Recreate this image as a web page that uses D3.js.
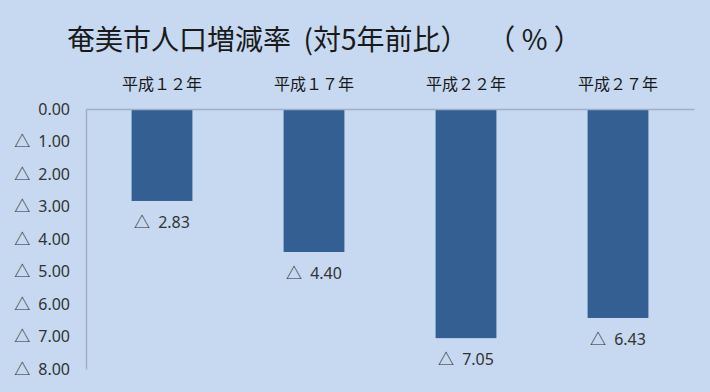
<!DOCTYPE html>
<html>
<head>
<meta charset="utf-8">
<script src="https://cdn.jsdelivr.net/npm/d3@7"></script>
<style>
  body { margin: 0; background: #c6d9f1; }
  svg { display: block; font-family: "Noto Sans CJK JP", "Noto Sans", sans-serif; }
  .title { text-spacing-trim: space-all; font-feature-settings: "chws" 0, "halt" 0; }
</style>
</head>
<body>
<div id="chart"></div>
<script>
var categories = ["平成１２年", "平成１７年", "平成２２年", "平成２７年"]
var rates = [-2.83, -4.40, -7.05, -6.43]
var tickValues = [0, -1, -2, -3, -4, -5, -6, -7, -8]
var title = "奄美市人口増減率\u00a0\u00a0(対5年前比）\u00a0\u00a0\u00a0（\u00a0%\u00a0）"

var width = 710, height = 392
var margin = { top: 109, right: 16, bottom: 22, left: 86 }

var svg = d3.select("#chart").append("svg")
    .attr("width", width)
    .attr("height", height)

svg.append("rect")
    .attr("width", width).attr("height", height)
    .attr("fill", "#c6d9f1")

svg.append("text")
    .attr("class", "title")
    .attr("x", 67)
    .attr("y", 50)
    .attr("font-size", 28)
    .attr("fill", "#1a1a1a")
    .text(title)

var x = d3.scaleBand()
    .domain(categories)
    .range([margin.left, width - margin.right])
    .paddingInner(0.6)
    .paddingOuter(0.3)

var y = d3.scaleLinear()
    .domain([0, -8])
    .range([margin.top, height - margin.bottom - 1])

var num = d3.format(".2f")

// negative values are written with a triangle, Japanese style
function label(sel) {
    sel.each(function(v) {
        var t = d3.select(this).text(null)
        if (v < 0) {
            t.append("tspan").attr("font-family", "'Noto Sans CJK JP', sans-serif").text("△")
            t.append("tspan").attr("dx", 8).text(num(-v))
        } else {
            t.append("tspan").text(num(v))
        }
    })
}

// y axis
var yAxis = d3.axisLeft(y).tickValues(tickValues).tickSize(0).tickPadding(16)
var gy = svg.append("g")
    .attr("transform", "translate(" + margin.left + ",0)")
    .call(yAxis)
gy.select(".domain").attr("stroke", "#9fb0c6").attr("stroke-width", 1.5)
gy.selectAll("text").attr("font-size", 16).attr("fill", "#333")
    .attr("font-family", "'Noto Sans', sans-serif")
    .call(label)

// bars
svg.selectAll("rect.bar")
    .data(rates)
    .enter().append("rect")
    .attr("class", "bar")
    .attr("x", function(d, i) { return x(categories[i]) })
    .attr("y", y(0))
    .attr("width", x.bandwidth())
    .attr("height", function(d) { return y(d) - y(0) })
    .attr("fill", "#335f93")

// top axis line and category labels
var xAxis = d3.axisTop(x).tickSize(0).tickPadding(19)
var gx = svg.append("g")
    .attr("transform", "translate(0," + y(0) + ")")
    .call(xAxis)
gx.select(".domain").attr("stroke", "#9fb0c6").attr("stroke-width", 1.5)
gx.selectAll("text").attr("font-size", 16).attr("fill", "#1a1a1a")
    .attr("font-family", "'Noto Sans CJK JP', sans-serif")

// value labels
svg.selectAll("text.val")
    .data(rates)
    .enter().append("text")
    .attr("class", "val")
    .attr("x", function(d, i) { return x(categories[i]) + x.bandwidth() / 2 })
    .attr("y", function(d) { return y(d) + 27 })
    .attr("text-anchor", "middle")
    .attr("font-size", 16)
    .attr("fill", "#333")
    .attr("font-family", "'Noto Sans', sans-serif")
    .call(label)
</script>
</body>
</html>
